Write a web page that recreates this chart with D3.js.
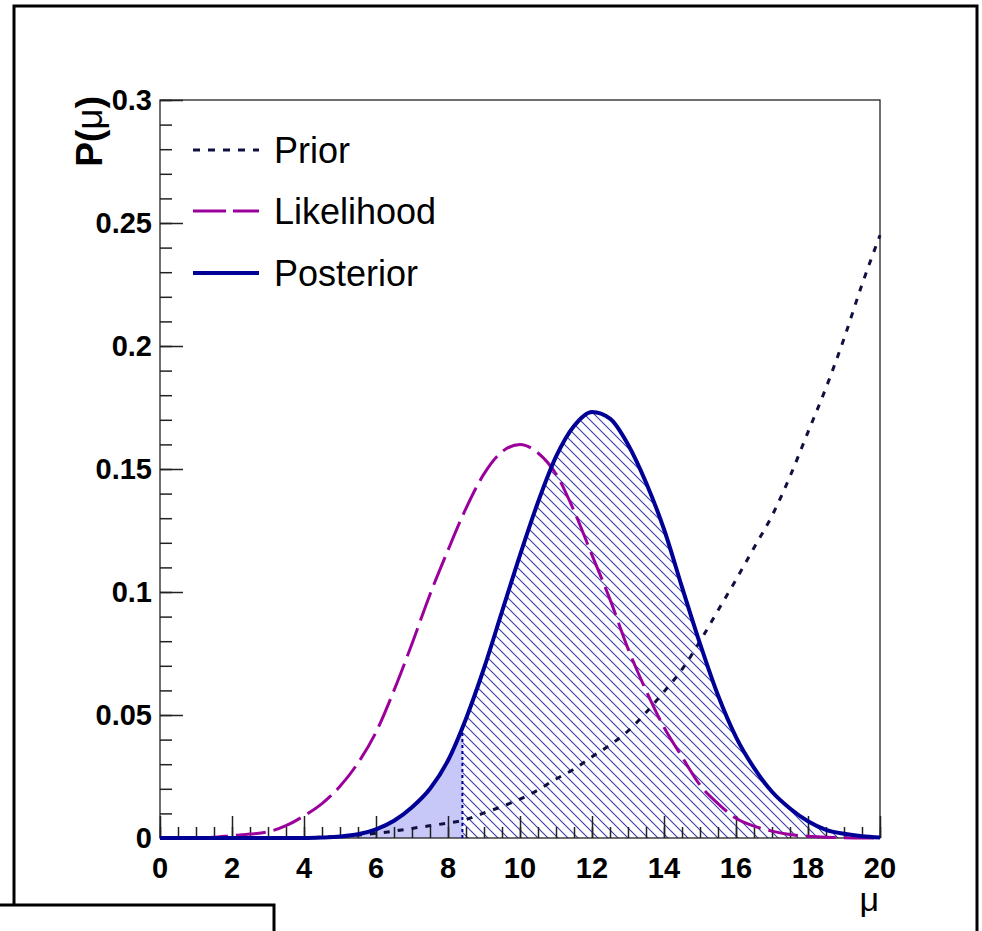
<!DOCTYPE html>
<html>
<head>
<meta charset="utf-8">
<script src="https://cdn.jsdelivr.net/npm/d3@7"></script>
<style>
  html, body { margin: 0; padding: 0; background: #fff; }
  svg { display: block; }
  text { font-family: "Liberation Sans", Arial, Helvetica, sans-serif; }
</style>
</head>
<body>
<svg id="chart" width="982" height="931"></svg>
<script>
// Sampling grid for mu (step 0.5)
const mu = [0, 0.5, 1, 1.5, 2, 2.5, 3, 3.5, 4, 4.5, 5, 5.5, 6, 6.5, 7, 7.5, 8, 8.5, 9, 9.5,
            10, 10.5, 11, 11.5, 12, 12.5, 13, 13.5, 14, 14.5, 15, 15.5, 16, 16.5, 17, 17.5,
            18, 18.5, 19, 19.5, 20];

const prior = [0, 0, 0, 0, 0, 0, 0, 0, 0, 0.0003, 0.0006, 0.0012, 0.0019, 0.0028, 0.0039, 0.0050,
               0.0061, 0.0075, 0.0102, 0.0128, 0.0158, 0.0195, 0.0240, 0.0280, 0.0330, 0.0378,
               0.0435, 0.0510, 0.0595, 0.0685, 0.0800, 0.0925, 0.1050, 0.1180, 0.1310, 0.1470,
               0.1650, 0.1830, 0.2030, 0.2250, 0.2450];

const likelihood = [0, 0, 0, 0.0003, 0.0010, 0.0016, 0.0025, 0.0050, 0.0090, 0.0140, 0.0210,
                    0.0305, 0.0430, 0.0600, 0.0790, 0.0990, 0.1170, 0.1340, 0.1480, 0.1570,
                    0.1600, 0.1565, 0.1480, 0.1330, 0.1150, 0.0970, 0.0770, 0.0600, 0.0450,
                    0.0330, 0.0215, 0.0140, 0.0080, 0.0048, 0.0028, 0.0014, 0.0007, 0.0003,
                    0.0001, 0, 0];

const posterior = [0, 0, 0, 0, 0, 0, 0, 0, 0, 0.0002, 0.0006, 0.0015, 0.0035, 0.0070, 0.0125,
                   0.0200, 0.0315, 0.0485, 0.0690, 0.0920, 0.1150, 0.1365, 0.1550, 0.1675,
                   0.1732, 0.1705, 0.1600, 0.1445, 0.1255, 0.1020, 0.0790, 0.0580, 0.0410,
                   0.0285, 0.0188, 0.0120, 0.0068, 0.0033, 0.0017, 0.0007, 0.0002];

// Lower edge of the credible interval and posterior density there
const cutMu = 8.4;
const cutValue = 0.0448;

const xTickLabels = [0, 2, 4, 6, 8, 10, 12, 14, 16, 18, 20];
const yTickLabels = ["0", "0.05", "0.1", "0.15", "0.2", "0.25", "0.3"];
const yTickValues = [0, 0.05, 0.1, 0.15, 0.2, 0.25, 0.3];

const legendNames = ["Prior", "Likelihood", "Posterior"];

// ---------------------------------------------------------------
const svg = d3.select("#chart");
const x = d3.scaleLinear().domain([0, 20]).range([160, 880]);
const y = d3.scaleLinear().domain([0, 0.3]).range([838, 100]);

const colPrior = "#101040";
const colLik = "#9c009c";
const colPost = "#000096";

// Outer pad border
svg.append("rect")
  .attr("x", 14).attr("y", 6).attr("width", 963).attr("height", 960)
  .attr("fill", "none").attr("stroke", "#000").attr("stroke-width", 3);

const defs = svg.append("defs");
const pat = defs.append("pattern")
  .attr("id", "hatch")
  .attr("patternUnits", "userSpaceOnUse")
  .attr("width", 10).attr("height", 10);
pat.append("path")
  .attr("d", "M0,0 L10,10 M-2,8 L2,12 M8,-2 L12,2")
  .attr("stroke", "#3c3cae").attr("stroke-width", 1.1).attr("fill", "none");

defs.append("clipPath").attr("id", "clipLow")
  .append("rect").attr("x", x(0)).attr("y", y(0.3))
  .attr("width", x(cutMu) - x(0)).attr("height", y(0) - y(0.3));
defs.append("clipPath").attr("id", "clipHigh")
  .append("rect").attr("x", x(cutMu)).attr("y", y(0.3))
  .attr("width", x(20) - x(cutMu)).attr("height", y(0) - y(0.3));

const idx = d3.range(mu.length);
const area = d3.area()
  .x(i => x(mu[i])).y0(y(0)).y1(i => y(posterior[i]))
  .curve(d3.curveMonotoneX);

svg.append("path").datum(idx)
  .attr("d", area).attr("fill", "#c8c8f8")
  .attr("clip-path", "url(#clipLow)");
svg.append("path").datum(idx)
  .attr("d", area).attr("fill", "url(#hatch)")
  .attr("clip-path", "url(#clipHigh)");

// Frame
svg.append("rect")
  .attr("x", x(0)).attr("y", y(0.3))
  .attr("width", x(20) - x(0)).attr("height", y(0) - y(0.3))
  .attr("fill", "none").attr("stroke", "#222").attr("stroke-width", 1.3);

// Axes with inward ticks
const yMinor = d3.range(0, 0.3001, 0.01);
const yAxisMinor = d3.axisRight(y).tickValues(yMinor).tickSize(12).tickFormat("");
const yAxisMajor = d3.axisRight(y).tickValues(yTickValues).tickSize(23).tickFormat("");
[yAxisMinor, yAxisMajor].forEach(ax => {
  const g = svg.append("g").attr("transform", `translate(${x(0)},0)`).call(ax);
  g.select(".domain").remove();
  g.selectAll("line").attr("stroke", "#222").attr("stroke-width", 1.5);
});
const xMinor = d3.range(0, 20.001, 0.5);
const xAxisMinor = d3.axisTop(x).tickValues(xMinor).tickSize(11).tickFormat("");
const xAxisMajor = d3.axisTop(x).tickValues(xTickLabels).tickSize(22).tickFormat("");
[xAxisMinor, xAxisMajor].forEach(ax => {
  const g = svg.append("g").attr("transform", `translate(0,${y(0)})`).call(ax);
  g.select(".domain").remove();
  g.selectAll("line").attr("stroke", "#222").attr("stroke-width", 1.5);
});

// Tick labels
svg.append("g").selectAll("text").data(yTickValues).join("text")
  .attr("x", 152).attr("y", d => y(d)).attr("dy", "0.36em")
  .attr("text-anchor", "end").attr("font-weight", "bold").attr("font-size", 29)
  .text((d, i) => yTickLabels[i]);
svg.append("g").selectAll("text").data(xTickLabels).join("text")
  .attr("x", d => x(d)).attr("y", 878)
  .attr("text-anchor", "middle").attr("font-weight", "bold").attr("font-size", 29)
  .text(d => d);

// Axis titles
svg.append("text")
  .attr("x", 879).attr("y", 911).attr("text-anchor", "end")
  .attr("font-size", 34).text("μ");
const yt = svg.append("text")
  .attr("transform", "translate(102,96) rotate(-90)")
  .attr("text-anchor", "end").attr("font-size", 37);
yt.append("tspan").attr("font-weight", "bold").text("P(");
yt.append("tspan").text("μ");
yt.append("tspan").attr("font-weight", "bold").text(")");

// Vertical marker at the interval edge
svg.append("line")
  .attr("x1", x(cutMu)).attr("x2", x(cutMu))
  .attr("y1", y(0)).attr("y2", y(cutValue))
  .attr("stroke", colPost).attr("stroke-width", 2).attr("stroke-dasharray", "3,3");

// Curves
const line = vals => d3.line()
  .x(i => x(mu[i])).y(i => y(vals[i]))
  .curve(d3.curveMonotoneX)(idx);

svg.append("path").attr("d", line(likelihood))
  .attr("fill", "none").attr("stroke", colLik).attr("stroke-width", 3)
  .attr("stroke-dasharray", "30,8");
svg.append("path").attr("d", line(prior))
  .attr("fill", "none").attr("stroke", colPrior).attr("stroke-width", 3)
  .attr("stroke-dasharray", "6,8");
svg.append("path").attr("d", line(posterior))
  .attr("fill", "none").attr("stroke", colPost).attr("stroke-width", 4);

// Legend
const legendStyles = [
  { color: colPrior, width: 3, dash: "7,8" },
  { color: colLik, width: 3, dash: "33,7" },
  { color: colPost, width: 4, dash: null }
];
const legendY = [150, 211, 273];
const lg = svg.append("g");
legendNames.forEach((name, i) => {
  const s = legendStyles[i];
  lg.append("line")
    .attr("x1", 193).attr("x2", 259).attr("y1", legendY[i]).attr("y2", legendY[i])
    .attr("stroke", s.color).attr("stroke-width", s.width)
    .attr("stroke-dasharray", s.dash);
  lg.append("text")
    .attr("x", 274).attr("y", legendY[i]).attr("dy", "0.36em")
    .attr("font-size", 36).text(name);
});

// Lower-left box overlapping the pad border
svg.append("rect")
  .attr("x", -5).attr("y", 905).attr("width", 279).attr("height", 60)
  .attr("fill", "#fff").attr("stroke", "#000").attr("stroke-width", 3);
</script>
</body>
</html>
